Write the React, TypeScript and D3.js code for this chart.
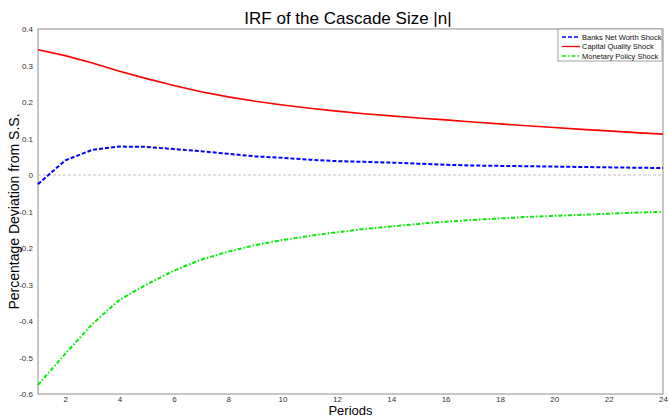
import * as d3 from "d3";
import React, { useEffect, useRef } from "react";

const periods = d3.range(1, 25);
const banksNetWorth = [-0.025, 0.04, 0.069, 0.078, 0.077, 0.071, 0.065, 0.058, 0.051, 0.047, 0.042, 0.038, 0.036, 0.034, 0.031, 0.028, 0.026, 0.025, 0.024, 0.023, 0.022, 0.021, 0.020, 0.019];
const capitalQuality = [0.343, 0.327, 0.307, 0.284, 0.264, 0.245, 0.228, 0.214, 0.202, 0.192, 0.183, 0.175, 0.168, 0.162, 0.156, 0.151, 0.145, 0.140, 0.135, 0.130, 0.125, 0.121, 0.116, 0.112];
const monetaryPolicy = [-0.575, -0.49, -0.408, -0.342, -0.30, -0.262, -0.232, -0.21, -0.192, -0.178, -0.167, -0.157, -0.148, -0.141, -0.134, -0.128, -0.123, -0.119, -0.115, -0.112, -0.109, -0.106, -0.103, -0.101];
const xTicks = [2, 4, 6, 8, 10, 12, 14, 16, 18, 20, 22, 24];
const yTicks = [0.4, 0.3, 0.2, 0.1, 0, -0.1, -0.2, -0.3, -0.4, -0.5, -0.6];

const series = [
  { name: "Banks Net Worth Shock", values: banksNetWorth, color: "#0000ff", dash: "4,2", width: 2 },
  { name: "Capital Quality Shock", values: capitalQuality, color: "#ff0000", dash: null, width: 1.6 },
  { name: "Monetary Policy Shock", values: monetaryPolicy, color: "#00ee00", dash: "4,2,1.5,2", width: 2 },
];

const font = "Arial, Liberation Sans, sans-serif";

export default function App() {
  const svgRef = useRef<SVGSVGElement | null>(null);

  useEffect(() => {
    const width = 669, height = 417;
    const svg = d3.select(svgRef.current);
    svg.selectAll("*").remove();

    const margin = { top: 29, right: 6, bottom: 23, left: 38 };
    const w = width - margin.left - margin.right;
    const h = height - margin.top - margin.bottom;

    const x = d3.scaleLinear().domain([1, 24]).range([0, w]);
    const y = d3.scaleLinear().domain([-0.6, 0.4]).range([h, 0]);

    const root = svg.append("g").attr("transform", `translate(${margin.left},${margin.top})`);

    // zero line
    root.append("line")
      .attr("x1", 0).attr("x2", w)
      .attr("y1", y(0)).attr("y2", y(0))
      .attr("stroke", "#c0c0c0").attr("stroke-width", 1.2)
      .attr("stroke-dasharray", "3,2");

    // frame
    root.append("rect")
      .attr("width", w).attr("height", h)
      .attr("fill", "none").attr("stroke", "#a0a0a0").attr("stroke-width", 1.2);

    const gx = root.append("g").attr("transform", `translate(0,${h})`)
      .call(d3.axisBottom(x).tickValues(xTicks).tickSize(0).tickPadding(2).tickFormat(d3.format("d")));
    gx.select(".domain").remove();
    gx.selectAll("text").attr("fill", "#333").attr("font-size", 8).attr("font-family", font);

    const gy = root.append("g")
      .call(d3.axisLeft(y).tickValues(yTicks).tickSize(0).tickPadding(5)
        .tickFormat((d) => String(+(+d).toFixed(1))));
    gy.select(".domain").remove();
    gy.selectAll("text").attr("fill", "#333").attr("font-size", 8).attr("font-family", font);

    const line = d3.line<number>()
      .x((_, i) => x(periods[i]))
      .y((d) => y(d));

    series.forEach((s) => {
      root.append("path")
        .datum(s.values)
        .attr("d", line)
        .attr("fill", "none")
        .attr("stroke", s.color)
        .attr("stroke-width", s.width)
        .attr("stroke-linejoin", "round")
        .attr("stroke-dasharray", s.dash ?? null);
    });

    // legend
    const lg = svg.append("g").attr("transform", "translate(558,29)");
    lg.append("rect").attr("width", 104).attr("height", 32)
      .attr("fill", "white").attr("stroke", "#a0a0a0").attr("stroke-width", 1);
    series.forEach((s, i) => {
      const yy = 8 + i * 9.5;
      lg.append("line").attr("x1", 4).attr("x2", 22).attr("y1", yy).attr("y2", yy)
        .attr("stroke", s.color).attr("stroke-width", 1.3)
        .attr("stroke-dasharray", s.dash ?? null);
      lg.append("text").attr("x", 24).attr("y", yy).attr("dy", "0.35em")
        .attr("font-size", 7.5).attr("fill", "#111")
        .attr("font-family", font)
        .text(s.name);
    });

    // title and labels
    svg.append("text").attr("x", 348).attr("y", 24).attr("text-anchor", "middle")
      .attr("font-size", 17).attr("font-family", font)
      .text("IRF of the Cascade Size |n|");
    svg.append("text").attr("x", margin.left + w / 2).attr("y", 415).attr("text-anchor", "middle")
      .attr("font-size", 13).attr("font-family", font)
      .text("Periods");
    svg.append("text")
      .attr("transform", `translate(19,${margin.top + h / 2}) rotate(-90)`)
      .attr("text-anchor", "middle")
      .attr("font-size", 14).attr("font-family", font)
      .text("Percentage Deviation from S.S.");
  }, []);

  return (
    <div style={{ position: "absolute", left: 0, top: 0, width: 669, height: 417, background: "white" }}>
      <svg ref={svgRef} width={669} height={417} style={{ display: "block" }} />
    </div>
  );
}
